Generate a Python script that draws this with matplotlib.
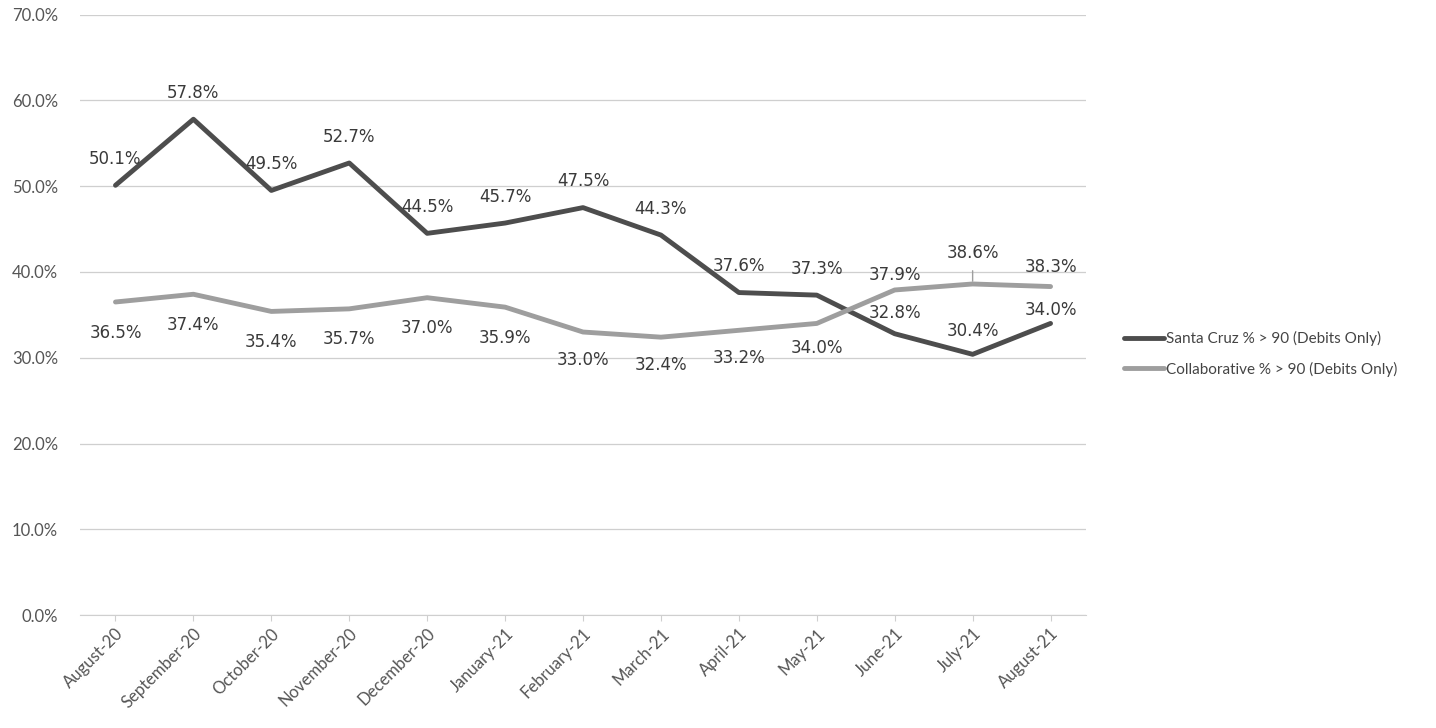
import matplotlib.pyplot as plt
from matplotlib.ticker import PercentFormatter

months = ['August-20', 'September-20', 'October-20', 'November-20', 'December-20',
          'January-21', 'February-21', 'March-21', 'April-21', 'May-21',
          'June-21', 'July-21', 'August-21']
santa_cruz = [50.1, 57.8, 49.5, 52.7, 44.5, 45.7, 47.5, 44.3, 37.6, 37.3, 32.8, 30.4, 34.0]
collaborative = [36.5, 37.4, 35.4, 35.7, 37.0, 35.9, 33.0, 32.4, 33.2, 34.0, 37.9, 38.6, 38.3]

# label offsets (points) -- positive is above the point
sc_offsets = [19, 19, 19, 19, 19, 19, 19, 19, 19, 19, 15, 17, 10]
co_offsets = [-22, -22, -22, -22, -22, -22, -20, -20, -20, -18, 11, 22, 14]

plt.rcParams['font.family'] = ['Lato', 'DejaVu Sans']

fig = plt.figure(figsize=(14.36, 7.28), dpi=100)
ax = fig.add_axes([0.056, 0.155, 0.70, 0.825])

x = range(len(months))
ax.plot(x, santa_cruz, color='#4d4d4d', lw=3.5, solid_capstyle='round',
        label='Santa Cruz % > 90 (Debits Only)', zorder=3)
ax.plot(x, collaborative, color='#9e9e9e', lw=3.5, solid_capstyle='round',
        label='Collaborative % > 90 (Debits Only)', zorder=3)

for i, v in enumerate(santa_cruz):
    ax.annotate(f'{v:.1f}%', (i, v), xytext=(0, sc_offsets[i]), textcoords='offset points',
                ha='center', va='center', fontsize=12, color='#3a3a3a',
                family='DejaVu Sans')
for i, v in enumerate(collaborative):
    arrow = dict(arrowstyle='-', color='#9e9e9e', lw=1, shrinkA=4, shrinkB=2) if i == 11 else None
    ax.annotate(f'{v:.1f}%', (i, v), xytext=(0, co_offsets[i]), textcoords='offset points',
                ha='center', va='center', fontsize=12, color='#3a3a3a',
                family='DejaVu Sans', arrowprops=arrow)

ax.set_ylim(0, 70)
ax.set_yticks(range(0, 71, 10))
ax.yaxis.set_major_formatter(PercentFormatter(decimals=1))
ax.set_xlim(-0.45, len(months) - 0.55)
ax.set_xticks(list(x))
ax.set_xticklabels(months, rotation=45, ha='right', rotation_mode='anchor')
ax.grid(axis='y', color='#cfcfcf', lw=0.9)
ax.set_axisbelow(True)
for s in ['top', 'right', 'left']:
    ax.spines[s].set_visible(False)
ax.spines['bottom'].set_color('#cfcfcf')
ax.tick_params(axis='y', length=0, labelsize=12, labelcolor='#555555', pad=16)
ax.tick_params(axis='x', length=4, color='#cfcfcf', labelsize=12, labelcolor='#555555')

ax.legend(loc='center left', bbox_to_anchor=(1.025, 0.435), frameon=False,
          fontsize=11, handlelength=2.6, handletextpad=0.1, labelspacing=1.0,
          labelcolor='#444444')

fig.savefig('out.png', dpi=100, facecolor='white')
